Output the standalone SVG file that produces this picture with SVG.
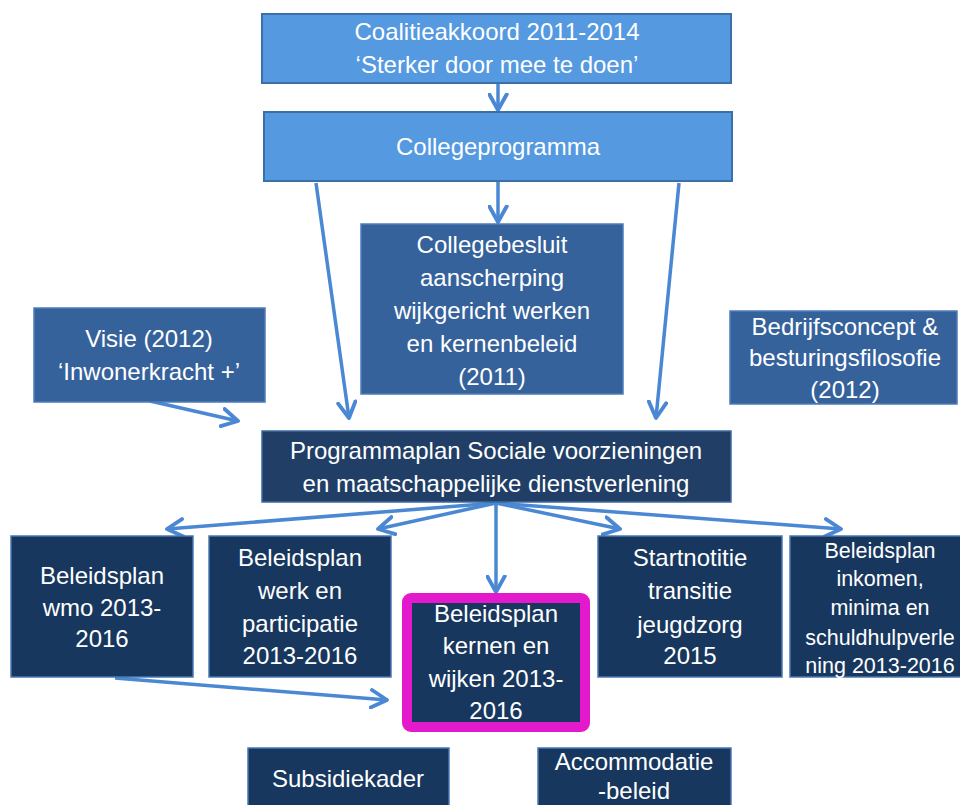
<svg xmlns="http://www.w3.org/2000/svg" width="960" height="805" viewBox="0 0 960 805">
<style>
text{font-family:"Liberation Sans",Arial,sans-serif;fill:#ffffff;text-anchor:middle}
.t{font-size:24px}
.s{font-size:21.5px}
.light{fill:#5599E0;stroke:#3A6FA8;stroke-width:2}
.mid{fill:#36629C;stroke:#4C7DBA;stroke-width:1.5}
.dark{fill:#17375E;stroke:#4A78B2;stroke-width:1.5}
.prog{fill:#213F66;stroke:#3E6A9E;stroke-width:1.5}
.hl{fill:#17375E;stroke:#E31ACB;stroke-width:10}
.c{stroke:#4A88D4;stroke-width:3.5;fill:none;marker-end:url(#ah)}
</style>
<defs>
<marker id="ah" viewBox="0 0 12 12" refX="10" refY="6" markerWidth="6" markerHeight="6" markerUnits="strokeWidth" orient="auto">
<path d="M1,1 L10,6 L1,11" fill="none" stroke="#4A88D4" stroke-width="2.2" stroke-linecap="round" stroke-linejoin="round"/>
</marker>
</defs>
<rect width="960" height="805" fill="#ffffff"/>
<g id="connectors">
<line class="c" x1="498" y1="84" x2="498" y2="110"/>
<line class="c" x1="498" y1="182" x2="498" y2="222"/>
<line class="c" x1="316" y1="183" x2="349" y2="418"/>
<line class="c" x1="679" y1="183" x2="656" y2="418"/>
<line class="c" x1="150" y1="401" x2="238" y2="421"/>
<line class="c" x1="496" y1="503" x2="167" y2="529"/>
<line class="c" x1="496" y1="503" x2="378" y2="529"/>
<line class="c" x1="496" y1="503" x2="496" y2="592"/>
<line class="c" x1="496" y1="503" x2="620" y2="529"/>
<line class="c" x1="496" y1="503" x2="841" y2="529"/>
<line class="c" x1="115" y1="678" x2="387" y2="700"/>
</g>
<g id="coalitie">
<rect class="light" x="262" y="14" width="469" height="69"/>
<text class="t" x="497" y="40">Coalitieakkoord 2011-2014</text>
<text class="t" x="497" y="73">‘Sterker door mee te doen’</text>
</g>
<g id="collegeprogramma">
<rect class="light" x="264" y="112" width="468" height="69"/>
<text class="t" x="498" y="155">Collegeprogramma</text>
</g>
<g id="collegebesluit">
<rect class="mid" x="361" y="224" width="262" height="170"/>
<text class="t" x="492" y="253">Collegebesluit</text>
<text class="t" x="492" y="286">aanscherping</text>
<text class="t" x="492" y="319">wijkgericht werken</text>
<text class="t" x="492" y="352">en kernenbeleid</text>
<text class="t" x="492" y="385">(2011)</text>
</g>
<g id="visie">
<rect class="mid" x="34" y="308" width="231" height="94"/>
<text class="t" x="149" y="347">Visie (2012)</text>
<text class="t" x="149" y="380">‘Inwonerkracht +’</text>
</g>
<g id="bedrijfsconcept">
<rect class="mid" x="730" y="311" width="227" height="93"/>
<text class="t" x="845" y="335">Bedrijfsconcept &amp;</text>
<text class="t" x="845" y="366">besturingsfilosofie</text>
<text class="t" x="845" y="398">(2012)</text>
</g>
<g id="programmaplan">
<rect class="prog" x="262" y="431" width="469" height="71"/>
<text class="t" x="496" y="459">Programmaplan Sociale voorzieningen</text>
<text class="t" x="496" y="492">en maatschappelijke dienstverlening</text>
</g>
<g id="wmo">
<rect class="dark" x="11" y="536" width="182" height="141"/>
<text class="t" x="102" y="584">Beleidsplan</text>
<text class="t" x="102" y="616">wmo 2013-</text>
<text class="t" x="102" y="647">2016</text>
</g>
<g id="werk">
<rect class="dark" x="209" y="536" width="182" height="141"/>
<text class="t" x="300" y="566">Beleidsplan</text>
<text class="t" x="300" y="599">werk en</text>
<text class="t" x="300" y="632">participatie</text>
<text class="t" x="300" y="664">2013-2016</text>
</g>
<g id="kernen">
<rect class="hl" x="407" y="598" width="178" height="129" rx="4"/>
<text class="t" x="496" y="622">Beleidsplan</text>
<text class="t" x="496" y="654">kernen en</text>
<text class="t" x="496" y="687">wijken 2013-</text>
<text class="t" x="496" y="719">2016</text>
</g>
<g id="startnotitie">
<rect class="dark" x="598" y="536" width="184" height="141"/>
<text class="t" x="690" y="566">Startnotitie</text>
<text class="t" x="690" y="599">transitie</text>
<text class="t" x="690" y="633">jeugdzorg</text>
<text class="t" x="690" y="664">2015</text>
</g>
<g id="inkomen">
<rect class="dark" x="790" y="536" width="175" height="141"/>
<text class="s" x="880" y="558">Beleidsplan</text>
<text class="s" x="880" y="586">inkomen,</text>
<text class="s" x="880" y="615">minima en</text>
<text class="s" x="880" y="645">schuldhulpverle</text>
<text class="s" x="880" y="673">ning 2013-2016</text>
</g>
<g id="subsidiekader">
<rect class="dark" x="248" y="748" width="201" height="62"/>
<text class="t" x="348" y="787">Subsidiekader</text>
</g>
<g id="accommodatie">
<rect class="dark" x="538" y="748" width="193" height="62"/>
<text class="t" x="634" y="770">Accommodatie</text>
<text class="t" x="634" y="799">-beleid</text>
</g>
</svg>
